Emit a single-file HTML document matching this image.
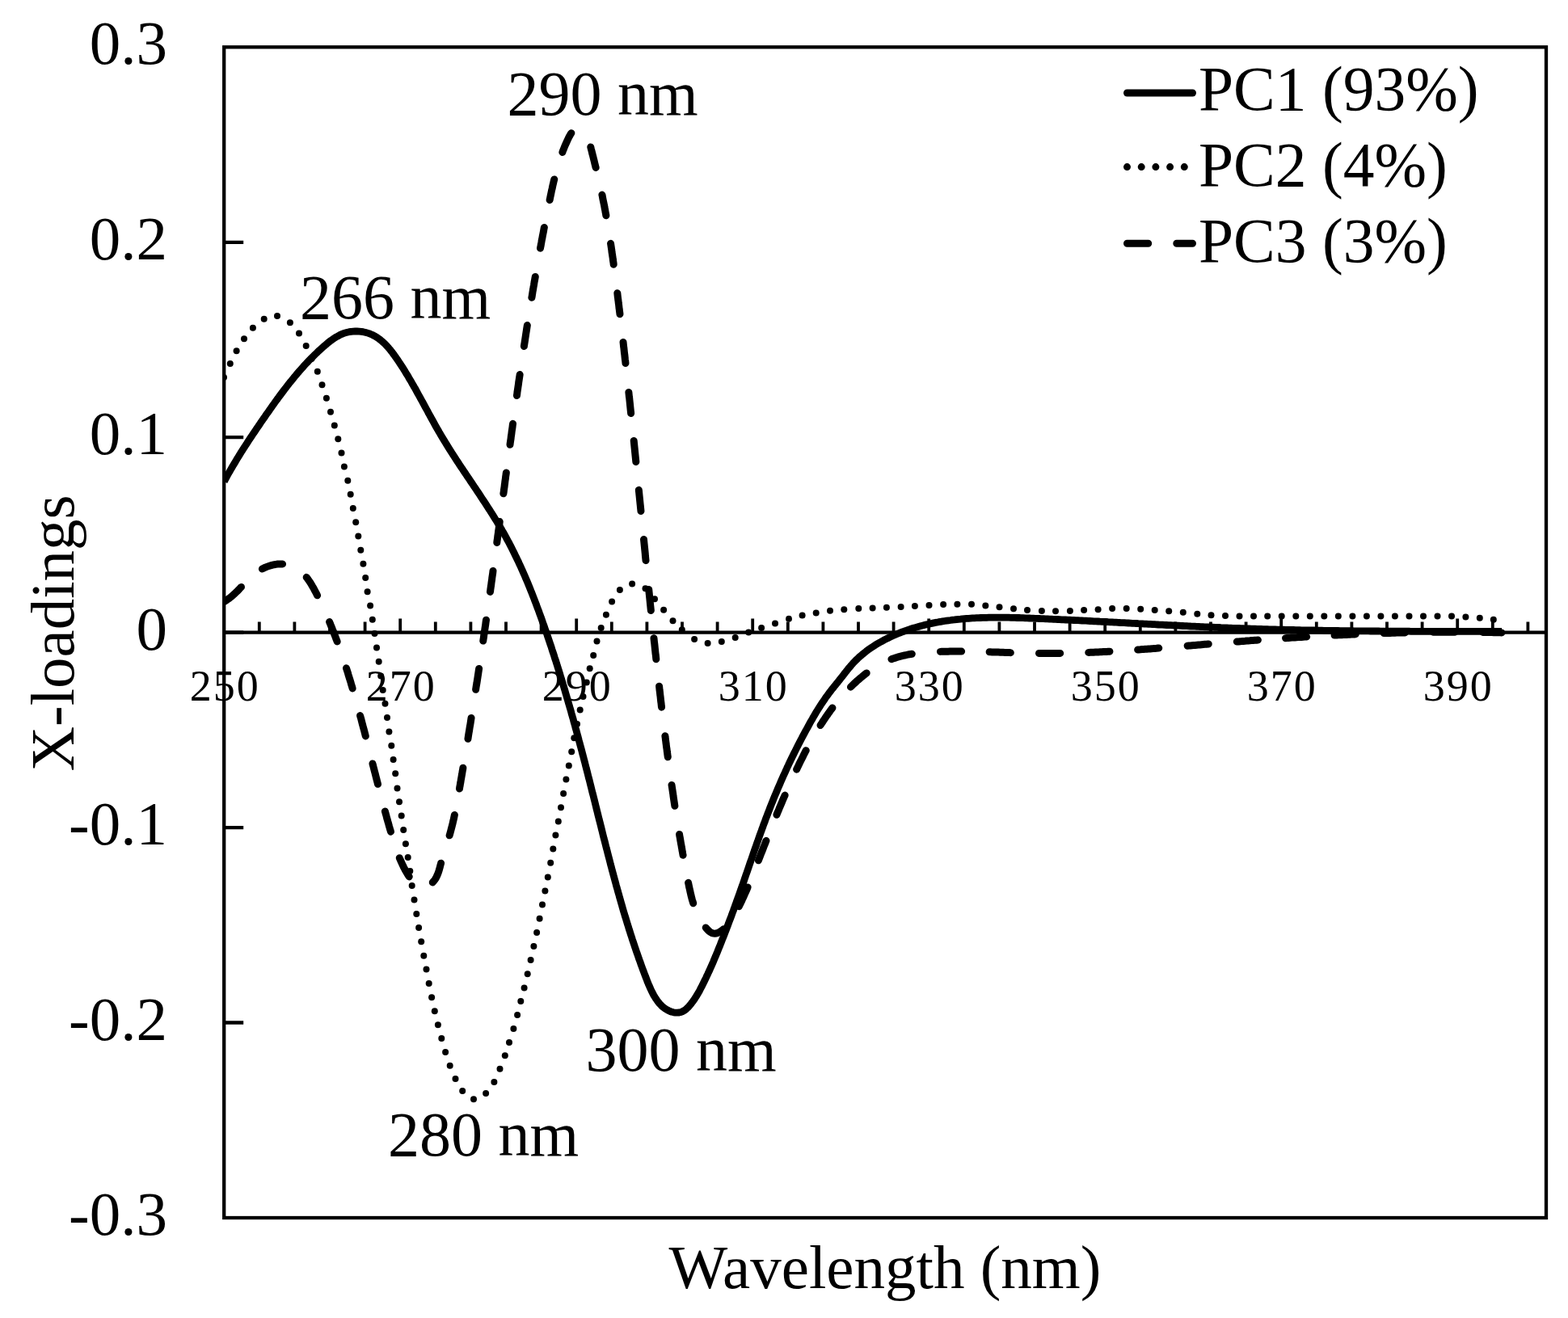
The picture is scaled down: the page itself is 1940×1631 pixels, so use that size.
<!DOCTYPE html>
<html><head><meta charset="utf-8"><title>X-loadings</title>
<style>html,body{margin:0;padding:0;background:#fff;overflow:hidden}svg{display:block}</style>
</head><body>
<svg xmlns="http://www.w3.org/2000/svg" width="1940" height="1631" viewBox="0 0 1940 1631" font-family="Liberation Serif, Times New Roman, serif" fill="#000">
<rect x="277.2" y="58.3" width="1635.8" height="1448.7" fill="none" stroke="#000" stroke-width="4.3"/>
<path d="M277.2,299.8H301.2M277.2,541.2H301.2M277.2,782.6H301.2M277.2,1024.1H301.2M277.2,1265.5H301.2" stroke="#000" stroke-width="4.3" fill="none"/>
<path d="M277.2,782.6H1913.0" stroke="#000" stroke-width="4.3" fill="none"/>
<path d="M320.8,782.6V769.6M364.4,782.6V769.6M408.0,782.6V769.6M451.6,782.6V769.6M495.2,782.6V765.4M538.8,782.6V769.6M582.4,782.6V769.6M626.0,782.6V769.6M669.6,782.6V769.6M713.2,782.6V765.4M756.8,782.6V769.6M800.4,782.6V769.6M844.0,782.6V769.6M887.6,782.6V769.6M931.2,782.6V765.4M974.8,782.6V769.6M1018.4,782.6V769.6M1062.0,782.6V769.6M1105.6,782.6V769.6M1149.2,782.6V765.4M1192.8,782.6V769.6M1236.4,782.6V769.6M1280.0,782.6V769.6M1323.6,782.6V769.6M1367.2,782.6V765.4M1410.8,782.6V769.6M1454.4,782.6V769.6M1498.0,782.6V769.6M1541.6,782.6V769.6M1585.2,782.6V765.4M1628.8,782.6V769.6M1672.4,782.6V769.6M1716.0,782.6V769.6M1759.6,782.6V769.6M1803.2,782.6V765.4M1846.8,782.6V769.6M1890.4,782.6V769.6" stroke="#000" stroke-width="3.8" fill="none"/>
<defs><clipPath id="pa"><rect x="277.2" y="58.3" width="1635.8" height="1448.7"/></clipPath></defs><g clip-path="url(#pa)">
<path d="M277.3,595.8 278.5,593.6 279.7,591.4 280.9,589.2 282.1,587.0 283.3,584.9 284.6,582.7 285.8,580.5 287.1,578.4 288.3,576.2 289.6,574.1 290.9,571.9 292.2,569.8 293.5,567.6 294.8,565.5 296.1,563.4 297.4,561.3 298.7,559.1 300.1,557.0 301.4,554.9 302.8,552.8 304.1,550.7 305.5,548.6 306.8,546.5 308.2,544.4 309.6,542.3 311.0,540.2 312.4,538.1 313.8,536.1 315.2,534.0 316.6,531.9 318.0,529.8 319.4,527.8 320.8,525.7 322.2,523.6 323.6,521.6 325.0,519.5 326.5,517.4 327.9,515.4 329.3,513.3 330.7,511.3 332.2,509.3 333.6,507.2 335.0,505.2 336.5,503.1 337.9,501.1 339.4,499.1 340.8,497.1 342.3,495.0 343.8,493.0 345.2,491.0 346.7,489.0 348.2,487.0 349.7,485.0 351.2,483.0 352.7,481.1 354.2,479.1 355.7,477.1 357.3,475.2 358.8,473.2 360.4,471.3 361.9,469.4 363.5,467.4 365.1,465.5 366.7,463.6 368.3,461.7 369.9,459.8 371.6,457.9 373.2,456.1 374.9,454.2 376.5,452.3 378.2,450.5 380.0,448.7 381.7,446.8 383.4,445.0 385.2,443.2 387.0,441.5 388.7,439.7 390.6,437.9 392.4,436.2 394.2,434.4 396.1,432.7 398.0,431.0 399.9,429.3 401.8,427.6 403.8,426.0 405.7,424.3 407.7,422.7 409.8,421.2 411.8,419.7 413.9,418.3 416.0,417.0 418.2,415.8 420.4,414.6 422.6,413.6 424.9,412.7 427.2,411.9 429.6,411.2 432.0,410.7 434.5,410.3 436.9,410.1 439.4,409.9 441.9,410.0 444.4,410.1 446.9,410.3 449.3,410.7 451.7,411.2 454.1,411.9 456.5,412.6 458.7,413.5 461.0,414.5 463.1,415.6 465.2,416.8 467.2,418.1 469.2,419.5 471.1,421.0 473.0,422.6 474.8,424.2 476.6,425.9 478.3,427.7 480.0,429.6 481.6,431.5 483.2,433.4 484.8,435.4 486.3,437.5 487.8,439.5 489.3,441.6 490.8,443.7 492.2,445.8 493.6,447.9 495.0,450.0 496.4,452.2 497.8,454.3 499.2,456.4 500.5,458.6 501.8,460.7 503.1,462.9 504.5,465.0 505.7,467.2 507.0,469.4 508.3,471.5 509.5,473.7 510.8,475.9 512.0,478.1 513.3,480.2 514.5,482.4 515.7,484.6 516.9,486.8 518.1,489.0 519.3,491.1 520.5,493.3 521.7,495.5 522.9,497.7 524.1,499.9 525.3,502.1 526.5,504.3 527.7,506.5 528.9,508.6 530.0,510.8 531.2,513.0 532.4,515.2 533.6,517.4 534.8,519.5 536.0,521.7 537.2,523.9 538.4,526.1 539.6,528.2 540.9,530.4 542.1,532.5 543.3,534.7 544.6,536.8 545.8,539.0 547.1,541.1 548.4,543.3 549.7,545.4 551.0,547.5 552.3,549.6 553.6,551.8 554.9,553.9 556.2,556.0 557.6,558.1 558.9,560.2 560.2,562.3 561.6,564.4 563.0,566.5 564.3,568.6 565.7,570.7 567.1,572.8 568.4,574.9 569.8,577.0 571.2,579.1 572.6,581.1 574.0,583.2 575.4,585.3 576.8,587.4 578.2,589.5 579.6,591.6 581.0,593.6 582.4,595.7 583.8,597.8 585.2,599.9 586.6,602.0 588.0,604.0 589.4,606.1 590.8,608.2 592.2,610.3 593.6,612.4 594.9,614.5 596.3,616.6 597.7,618.7 599.1,620.8 600.5,622.9 601.8,625.0 603.2,627.1 604.5,629.2 605.9,631.3 607.2,633.4 608.6,635.5 609.9,637.6 611.2,639.8 612.5,641.9 613.9,644.0 615.2,646.1 616.4,648.3 617.7,650.4 619.0,652.6 620.3,654.7 621.5,656.9 622.8,659.1 624.0,661.2 625.2,663.4 626.4,665.6 627.6,667.8 628.8,670.0 630.0,672.2 631.1,674.4 632.3,676.6 633.4,678.9 634.5,681.1 635.6,683.3 636.7,685.5 637.8,687.8 638.9,690.0 640.0,692.3 641.1,694.5 642.1,696.8 643.2,699.1 644.2,701.3 645.2,703.6 646.3,705.9 647.3,708.2 648.3,710.5 649.3,712.7 650.2,715.0 651.2,717.3 652.2,719.6 653.2,721.9 654.1,724.3 655.1,726.6 656.0,728.9 656.9,731.2 657.9,733.5 658.8,735.8 659.7,738.2 660.6,740.5 661.5,742.8 662.4,745.2 663.3,747.5 664.1,749.8 665.0,752.2 665.9,754.5 666.8,756.9 667.6,759.2 668.5,761.6 669.3,763.9 670.2,766.3 671.0,768.6 671.8,771.0 672.7,773.3 673.5,775.7 674.3,778.1 675.1,780.4 676.0,782.8 676.8,785.1 677.6,787.5 678.4,789.9 679.2,792.2 680.0,794.6 680.8,797.0 681.6,799.3 682.4,801.7 683.1,804.1 683.9,806.5 684.7,808.8 685.5,811.2 686.2,813.6 687.0,816.0 687.8,818.3 688.5,820.7 689.3,823.1 690.0,825.5 690.8,827.9 691.5,830.2 692.3,832.6 693.0,835.0 693.7,837.4 694.5,839.8 695.2,842.2 695.9,844.6 696.6,846.9 697.4,849.3 698.1,851.7 698.8,854.1 699.5,856.5 700.2,858.9 700.9,861.3 701.6,863.7 702.3,866.1 703.0,868.5 703.7,870.9 704.4,873.3 705.1,875.7 705.8,878.1 706.5,880.5 707.1,882.9 707.8,885.3 708.5,887.7 709.2,890.1 709.8,892.5 710.5,894.9 711.2,897.3 711.8,899.7 712.5,902.2 713.2,904.6 713.8,907.0 714.5,909.4 715.1,911.8 715.8,914.2 716.4,916.6 717.1,919.1 717.7,921.5 718.4,923.9 719.0,926.3 719.7,928.7 720.3,931.1 720.9,933.6 721.6,936.0 722.2,938.4 722.8,940.8 723.5,943.3 724.1,945.7 724.7,948.1 725.3,950.5 726.0,953.0 726.6,955.4 727.2,957.8 727.8,960.2 728.4,962.7 729.1,965.1 729.7,967.5 730.3,970.0 730.9,972.4 731.5,974.8 732.1,977.2 732.7,979.7 733.3,982.1 734.0,984.5 734.6,987.0 735.2,989.4 735.8,991.8 736.4,994.3 737.0,996.7 737.6,999.1 738.2,1001.6 738.8,1004.0 739.4,1006.4 740.0,1008.9 740.6,1011.3 741.2,1013.7 741.9,1016.2 742.5,1018.6 743.1,1021.0 743.7,1023.4 744.3,1025.9 744.9,1028.3 745.5,1030.7 746.1,1033.2 746.7,1035.6 747.3,1038.0 748.0,1040.4 748.6,1042.9 749.2,1045.3 749.8,1047.7 750.4,1050.1 751.1,1052.5 751.7,1055.0 752.3,1057.4 752.9,1059.8 753.6,1062.2 754.2,1064.6 754.8,1067.0 755.4,1069.5 756.1,1071.9 756.7,1074.3 757.3,1076.7 758.0,1079.1 758.6,1081.5 759.3,1083.9 759.9,1086.3 760.6,1088.7 761.2,1091.1 761.9,1093.5 762.5,1095.9 763.2,1098.3 763.9,1100.7 764.5,1103.1 765.2,1105.5 765.9,1107.8 766.5,1110.2 767.2,1112.6 767.9,1115.0 768.6,1117.4 769.3,1119.7 769.9,1122.1 770.6,1124.5 771.3,1126.9 772.0,1129.2 772.7,1131.6 773.4,1134.0 774.2,1136.3 774.9,1138.7 775.6,1141.0 776.3,1143.4 777.1,1145.8 777.8,1148.1 778.5,1150.5 779.3,1152.8 780.0,1155.2 780.8,1157.6 781.6,1159.9 782.3,1162.3 783.1,1164.7 783.9,1167.0 784.7,1169.4 785.5,1171.8 786.3,1174.2 787.1,1176.6 787.9,1178.9 788.8,1181.3 789.6,1183.7 790.4,1186.1 791.3,1188.5 792.2,1190.9 793.0,1193.4 793.9,1195.8 794.8,1198.2 795.7,1200.6 796.6,1203.1 797.5,1205.5 798.5,1208.0 799.4,1210.4 800.4,1212.9 801.3,1215.4 802.3,1217.8 803.4,1220.2 804.4,1222.6 805.5,1225.0 806.6,1227.3 807.8,1229.6 809.0,1231.9 810.3,1234.0 811.6,1236.1 813.0,1238.1 814.5,1240.1 816.0,1241.9 817.6,1243.6 819.3,1245.3 821.1,1246.8 823.0,1248.2 824.9,1249.4 827.0,1250.5 829.1,1251.5 831.3,1252.3 833.5,1252.8 835.8,1253.2 838.1,1253.2 840.3,1253.0 842.5,1252.5 844.6,1251.6 846.7,1250.4 848.7,1248.9 850.7,1247.1 852.5,1245.2 854.3,1243.1 855.9,1241.0 857.5,1238.8 859.1,1236.6 860.5,1234.4 861.9,1232.3 863.2,1230.1 864.4,1227.9 865.7,1225.7 866.8,1223.4 868.0,1221.2 869.1,1219.0 870.2,1216.8 871.3,1214.5 872.4,1212.3 873.5,1210.1 874.5,1207.8 875.6,1205.6 876.6,1203.3 877.7,1201.0 878.7,1198.8 879.7,1196.5 880.7,1194.2 881.7,1191.9 882.7,1189.7 883.6,1187.4 884.6,1185.1 885.6,1182.8 886.5,1180.5 887.5,1178.2 888.4,1175.9 889.3,1173.6 890.3,1171.3 891.2,1169.0 892.1,1166.6 893.0,1164.3 893.9,1162.0 894.9,1159.7 895.8,1157.4 896.7,1155.0 897.6,1152.7 898.5,1150.4 899.4,1148.0 900.3,1145.7 901.1,1143.4 902.0,1141.0 902.9,1138.7 903.8,1136.4 904.7,1134.0 905.5,1131.7 906.4,1129.3 907.3,1127.0 908.1,1124.6 909.0,1122.3 909.8,1119.9 910.7,1117.6 911.5,1115.2 912.4,1112.9 913.2,1110.5 914.1,1108.2 914.9,1105.8 915.7,1103.5 916.6,1101.1 917.4,1098.7 918.2,1096.4 919.1,1094.0 919.9,1091.7 920.7,1089.3 921.5,1086.9 922.3,1084.6 923.1,1082.2 924.0,1079.8 924.8,1077.5 925.6,1075.1 926.4,1072.8 927.2,1070.4 928.0,1068.0 928.8,1065.7 929.7,1063.3 930.5,1061.0 931.3,1058.6 932.1,1056.2 932.9,1053.9 933.7,1051.5 934.6,1049.2 935.4,1046.8 936.2,1044.4 937.0,1042.1 937.9,1039.7 938.7,1037.4 939.5,1035.0 940.4,1032.7 941.2,1030.3 942.1,1028.0 942.9,1025.6 943.8,1023.3 944.6,1020.9 945.5,1018.6 946.4,1016.3 947.2,1013.9 948.1,1011.6 949.0,1009.3 949.9,1006.9 950.8,1004.6 951.7,1002.3 952.6,999.9 953.5,997.6 954.4,995.3 955.4,993.0 956.3,990.6 957.2,988.3 958.2,986.0 959.1,983.7 960.1,981.4 961.1,979.1 962.0,976.8 963.0,974.5 964.0,972.2 965.0,969.9 966.0,967.6 967.0,965.3 968.0,963.0 969.0,960.7 970.1,958.4 971.1,956.2 972.1,953.9 973.2,951.6 974.2,949.3 975.3,947.1 976.3,944.8 977.4,942.5 978.5,940.3 979.6,938.0 980.7,935.8 981.8,933.5 982.9,931.3 984.0,929.1 985.1,926.8 986.2,924.6 987.4,922.4 988.5,920.1 989.7,917.9 990.8,915.7 992.0,913.5 993.1,911.3 994.3,909.1 995.5,906.9 996.7,904.7 997.9,902.5 999.1,900.3 1000.3,898.1 1001.5,895.9 1002.7,893.7 1003.9,891.6 1005.2,889.4 1006.4,887.2 1007.7,885.1 1008.9,883.0 1010.2,880.8 1011.5,878.7 1012.8,876.6 1014.2,874.5 1015.5,872.4 1016.9,870.3 1018.3,868.2 1019.7,866.2 1021.1,864.1 1022.5,862.1 1024.0,860.1 1025.5,858.0 1027.0,856.1 1028.5,854.1 1030.1,852.1 1031.7,850.2 1033.2,848.2 1034.8,846.2 1036.4,844.3 1037.9,842.3 1039.5,840.4 1041.0,838.4 1042.6,836.4 1044.1,834.5 1045.6,832.5 1047.2,830.6 1048.7,828.6 1050.3,826.7 1051.9,824.8 1053.5,822.9 1055.1,821.1 1056.8,819.3 1058.5,817.5 1060.3,815.8 1062.1,814.0 1063.9,812.4 1065.8,810.8 1067.7,809.2 1069.7,807.6 1071.6,806.1 1073.6,804.6 1075.6,803.1 1077.7,801.7 1079.8,800.3 1081.9,798.9 1084.0,797.6 1086.2,796.3 1088.4,795.0 1090.6,793.8 1092.8,792.6 1095.0,791.4 1097.3,790.3 1099.5,789.2 1101.8,788.1 1104.1,787.0 1106.4,786.0 1108.8,785.0 1111.1,784.0 1113.4,783.1 1115.8,782.2 1118.1,781.3 1120.5,780.5 1122.9,779.6 1125.2,778.8 1127.6,778.0 1130.0,777.3 1132.4,776.6 1134.8,775.9 1137.2,775.2 1139.6,774.6 1142.0,773.9 1144.4,773.3 1146.8,772.7 1149.2,772.2 1151.6,771.7 1154.1,771.1 1156.5,770.6 1158.9,770.2 1161.4,769.7 1163.8,769.3 1166.2,768.9 1168.7,768.5 1171.1,768.1 1173.6,767.8 1176.0,767.5 1178.5,767.1 1181.0,766.9 1183.4,766.6 1185.9,766.3 1188.4,766.1 1190.8,765.8 1193.3,765.6 1195.8,765.4 1198.3,765.3 1200.8,765.1 1203.2,764.9 1205.7,764.8 1208.2,764.7 1210.7,764.6 1213.2,764.5 1215.7,764.4 1218.2,764.3 1220.7,764.3 1223.2,764.2 1225.7,764.2 1228.2,764.1 1230.7,764.1 1233.2,764.1 1235.7,764.1 1238.2,764.1 1240.7,764.1 1243.2,764.2 1245.7,764.2 1248.2,764.2 1250.8,764.3 1253.3,764.3 1255.8,764.4 1258.3,764.5 1260.8,764.5 1263.3,764.6 1265.8,764.7 1268.3,764.8 1270.9,764.9 1273.4,765.0 1275.9,765.1 1278.4,765.2 1280.9,765.3 1283.4,765.4 1285.9,765.5 1288.4,765.6 1291.0,765.7 1293.5,765.8 1296.0,765.9 1298.5,766.1 1301.0,766.2 1303.5,766.3 1306.0,766.4 1308.5,766.5 1311.0,766.6 1313.5,766.8 1316.0,766.9 1318.5,767.0 1321.0,767.1 1323.5,767.2 1326.0,767.4 1328.5,767.5 1331.1,767.6 1333.6,767.7 1336.1,767.9 1338.6,768.0 1341.1,768.1 1343.6,768.2 1346.1,768.4 1348.6,768.5 1351.1,768.6 1353.5,768.8 1356.0,768.9 1358.5,769.0 1361.0,769.2 1363.5,769.3 1366.0,769.4 1368.5,769.5 1371.0,769.7 1373.5,769.8 1376.0,769.9 1378.5,770.1 1381.0,770.2 1383.5,770.3 1386.0,770.5 1388.5,770.6 1391.0,770.7 1393.5,770.9 1396.0,771.0 1398.5,771.1 1401.0,771.3 1403.4,771.4 1405.9,771.5 1408.4,771.7 1410.9,771.8 1413.4,771.9 1415.9,772.1 1418.4,772.2 1420.9,772.3 1423.4,772.4 1425.9,772.6 1428.4,772.7 1430.8,772.8 1433.3,773.0 1435.8,773.1 1438.3,773.2 1440.8,773.4 1443.3,773.5 1445.8,773.6 1448.3,773.7 1450.8,773.9 1453.3,774.0 1455.7,774.1 1458.2,774.2 1460.7,774.4 1463.2,774.5 1465.7,774.6 1468.2,774.7 1470.7,774.8 1473.2,775.0 1475.7,775.1 1478.2,775.2 1480.6,775.3 1483.1,775.4 1485.6,775.6 1488.1,775.7 1490.6,775.8 1493.1,775.9 1495.6,776.0 1498.1,776.1 1500.6,776.2 1503.1,776.3 1505.6,776.4 1508.1,776.5 1510.5,776.7 1513.0,776.8 1515.5,776.9 1518.0,777.0 1520.5,777.1 1523.0,777.2 1525.5,777.3 1528.0,777.4 1530.5,777.5 1533.0,777.5 1535.5,777.6 1538.0,777.7 1540.5,777.8 1543.0,777.9 1545.5,778.0 1548.0,778.1 1550.5,778.2 1553.0,778.2 1555.4,778.3 1557.9,778.4 1560.4,778.5 1562.9,778.6 1565.4,778.6 1567.9,778.7 1570.4,778.8 1572.9,778.8 1575.4,778.9 1577.9,779.0 1580.4,779.1 1582.9,779.1 1585.4,779.2 1587.9,779.2 1590.4,779.3 1592.9,779.4 1595.4,779.4 1597.9,779.5 1600.4,779.5 1602.9,779.6 1605.4,779.7 1607.9,779.7 1610.4,779.8 1612.9,779.8 1615.5,779.9 1618.0,779.9 1620.5,780.0 1623.0,780.0 1625.5,780.0 1628.0,780.1 1630.5,780.1 1633.0,780.2 1635.5,780.2 1638.0,780.3 1640.5,780.3 1643.0,780.3 1645.5,780.4 1648.0,780.4 1650.5,780.5 1653.0,780.5 1655.5,780.5 1658.0,780.6 1660.5,780.6 1663.0,780.6 1665.5,780.6 1668.0,780.7 1670.5,780.7 1673.0,780.7 1675.5,780.8 1678.0,780.8 1680.5,780.8 1683.1,780.8 1685.6,780.9 1688.1,780.9 1690.6,780.9 1693.1,780.9 1695.6,781.0 1698.1,781.0 1700.6,781.0 1703.1,781.0 1705.6,781.0 1708.1,781.1 1710.6,781.1 1713.1,781.1 1715.6,781.1 1718.1,781.1 1720.6,781.1 1723.1,781.1 1725.6,781.2 1728.1,781.2 1730.6,781.2 1733.1,781.2 1735.6,781.2 1738.1,781.2 1740.6,781.2 1743.1,781.2 1745.6,781.3 1748.1,781.3 1750.6,781.3 1753.1,781.3 1755.6,781.3 1758.1,781.3 1760.6,781.3 1763.1,781.3 1765.6,781.3 1768.1,781.3 1770.7,781.3 1773.2,781.3 1775.7,781.3 1778.2,781.3 1780.6,781.4 1783.1,781.4 1785.6,781.4 1788.1,781.4 1790.6,781.4 1793.1,781.4 1795.6,781.4 1798.1,781.4 1800.6,781.4 1803.1,781.4 1805.6,781.4 1808.1,781.4 1810.6,781.4 1813.1,781.4 1815.6,781.4 1818.1,781.4 1820.6,781.4 1823.1,781.4 1825.6,781.4 1828.1,781.4 1830.6,781.4 1833.1,781.4 1835.6,781.4 1838.1,781.4 1840.6,781.4 1843.0,781.4 1845.5,781.4 1848.0,781.4 1850.5,781.4 1853.0,781.4 1855.5,781.4 1858.0,781.4" fill="none" stroke="#000" stroke-width="8.8" stroke-linecap="butt" stroke-linejoin="round"/>
<g fill="#000"><circle cx="277.0" cy="467.0" r="4.0"/><circle cx="284.8" cy="450.0" r="4.0"/><circle cx="292.6" cy="434.2" r="4.0"/><circle cx="302.0" cy="419.3" r="4.0"/><circle cx="312.9" cy="405.7" r="4.0"/><circle cx="326.7" cy="394.8" r="4.0"/><circle cx="343.0" cy="391.1" r="4.0"/><circle cx="358.9" cy="399.2" r="4.0"/><circle cx="370.0" cy="412.4" r="4.0"/><circle cx="378.7" cy="428.0" r="4.0"/><circle cx="385.5" cy="444.0" r="4.0"/><circle cx="392.8" cy="459.8" r="4.0"/><circle cx="398.5" cy="476.3" r="4.0"/><circle cx="403.9" cy="492.8" r="4.0"/><circle cx="409.0" cy="509.7" r="4.0"/><circle cx="413.8" cy="526.4" r="4.0"/><circle cx="418.3" cy="543.3" r="4.0"/><circle cx="422.5" cy="560.4" r="4.0"/><circle cx="425.9" cy="577.4" r="4.0"/><circle cx="430.3" cy="594.7" r="4.0"/><circle cx="433.7" cy="611.8" r="4.0"/><circle cx="436.8" cy="629.1" r="4.0"/><circle cx="440.2" cy="646.3" r="4.0"/><circle cx="443.3" cy="663.4" r="4.0"/><circle cx="446.3" cy="680.7" r="4.0"/><circle cx="449.4" cy="697.8" r="4.0"/><circle cx="452.2" cy="715.0" r="4.0"/><circle cx="454.6" cy="732.3" r="4.0"/><circle cx="458.1" cy="749.6" r="4.0"/><circle cx="460.8" cy="766.7" r="4.0"/><circle cx="463.5" cy="784.0" r="4.0"/><circle cx="466.0" cy="801.4" r="4.0"/><circle cx="468.7" cy="818.8" r="4.0"/><circle cx="471.2" cy="836.4" r="4.0"/><circle cx="473.7" cy="854.0" r="4.0"/><circle cx="476.5" cy="870.7" r="4.0"/><circle cx="479.0" cy="888.0" r="4.0"/><circle cx="481.4" cy="905.4" r="4.0"/><circle cx="484.3" cy="922.7" r="4.0"/><circle cx="486.6" cy="940.0" r="4.0"/><circle cx="489.2" cy="957.2" r="4.0"/><circle cx="491.5" cy="975.4" r="4.0"/><circle cx="494.0" cy="992.3" r="4.0"/><circle cx="496.7" cy="1009.6" r="4.0"/><circle cx="499.2" cy="1027.0" r="4.0"/><circle cx="501.9" cy="1044.3" r="4.0"/><circle cx="504.7" cy="1061.0" r="4.0"/><circle cx="507.3" cy="1078.0" r="4.0"/><circle cx="509.7" cy="1096.0" r="4.0"/><circle cx="512.5" cy="1113.6" r="4.0"/><circle cx="515.3" cy="1130.9" r="4.0"/><circle cx="518.1" cy="1147.9" r="4.0"/><circle cx="521.2" cy="1165.2" r="4.0"/><circle cx="524.3" cy="1182.7" r="4.0"/><circle cx="527.5" cy="1199.6" r="4.0"/><circle cx="530.7" cy="1217.0" r="4.0"/><circle cx="534.1" cy="1234.2" r="4.0"/><circle cx="537.8" cy="1251.3" r="4.0"/><circle cx="541.9" cy="1268.2" r="4.0"/><circle cx="546.3" cy="1285.1" r="4.0"/><circle cx="551.1" cy="1301.9" r="4.0"/><circle cx="556.7" cy="1318.8" r="4.0"/><circle cx="563.5" cy="1335.0" r="4.0"/><circle cx="572.2" cy="1350.0" r="4.0"/><circle cx="586.0" cy="1360.2" r="4.0"/><circle cx="601.1" cy="1353.1" r="4.0"/><circle cx="611.4" cy="1339.0" r="4.0"/><circle cx="618.5" cy="1322.8" r="4.0"/><circle cx="624.8" cy="1306.3" r="4.0"/><circle cx="630.0" cy="1289.9" r="4.0"/><circle cx="635.4" cy="1273.0" r="4.0"/><circle cx="640.1" cy="1256.1" r="4.0"/><circle cx="644.3" cy="1239.1" r="4.0"/><circle cx="648.6" cy="1222.4" r="4.0"/><circle cx="652.7" cy="1205.2" r="4.0"/><circle cx="656.6" cy="1188.1" r="4.0"/><circle cx="660.4" cy="1171.1" r="4.0"/><circle cx="664.1" cy="1153.9" r="4.0"/><circle cx="667.6" cy="1136.7" r="4.0"/><circle cx="671.0" cy="1119.6" r="4.0"/><circle cx="674.4" cy="1102.4" r="4.0"/><circle cx="677.8" cy="1085.4" r="4.0"/><circle cx="681.2" cy="1067.8" r="4.0"/><circle cx="684.3" cy="1050.5" r="4.0"/><circle cx="687.4" cy="1033.5" r="4.0"/><circle cx="690.8" cy="1016.5" r="4.0"/><circle cx="694.0" cy="999.2" r="4.0"/><circle cx="697.1" cy="981.9" r="4.0"/><circle cx="700.4" cy="964.5" r="4.0"/><circle cx="703.8" cy="947.6" r="4.0"/><circle cx="707.2" cy="930.3" r="4.0"/><circle cx="710.3" cy="913.2" r="4.0"/><circle cx="714.0" cy="895.9" r="4.0"/><circle cx="717.7" cy="878.4" r="4.0"/><circle cx="721.5" cy="861.9" r="4.0"/><circle cx="725.8" cy="844.5" r="4.0"/><circle cx="729.7" cy="827.2" r="4.0"/><circle cx="734.2" cy="810.9" r="4.0"/><circle cx="738.5" cy="793.6" r="4.0"/><circle cx="743.7" cy="777.1" r="4.0"/><circle cx="749.9" cy="760.7" r="4.0"/><circle cx="757.1" cy="744.6" r="4.0"/><circle cx="766.9" cy="730.1" r="4.0"/><circle cx="782.1" cy="722.5" r="4.0"/><circle cx="798.5" cy="728.3" r="4.0"/><circle cx="810.0" cy="741.3" r="4.0"/><circle cx="821.1" cy="754.8" r="4.0"/><circle cx="832.5" cy="768.3" r="4.0"/><circle cx="843.8" cy="779.3" r="4.0"/><circle cx="859.1" cy="791.0" r="4.0"/><circle cx="875.6" cy="795.9" r="4.0"/><circle cx="892.8" cy="794.0" r="4.0"/><circle cx="909.7" cy="789.1" r="4.0"/><circle cx="926.2" cy="782.4" r="4.0"/><circle cx="942.1" cy="776.9" r="4.0"/><circle cx="959.0" cy="771.4" r="4.0"/><circle cx="976.0" cy="765.8" r="4.0"/><circle cx="992.6" cy="761.6" r="4.0"/><circle cx="1009.7" cy="758.6" r="4.0"/><circle cx="1027.0" cy="755.8" r="4.0"/><circle cx="1044.3" cy="754.2" r="4.0"/><circle cx="1062.3" cy="753.0" r="4.0"/><circle cx="1079.6" cy="752.4" r="4.0"/><circle cx="1096.9" cy="751.8" r="4.0"/><circle cx="1114.6" cy="750.9" r="4.0"/><circle cx="1131.9" cy="749.9" r="4.0"/><circle cx="1149.5" cy="748.9" r="4.0"/><circle cx="1167.1" cy="748.0" r="4.0"/><circle cx="1184.4" cy="747.7" r="4.0"/><circle cx="1202.0" cy="747.8" r="4.0"/><circle cx="1219.3" cy="749.4" r="4.0"/><circle cx="1236.5" cy="751.2" r="4.0"/><circle cx="1254.0" cy="753.3" r="4.0"/><circle cx="1271.0" cy="755.0" r="4.0"/><circle cx="1288.9" cy="755.9" r="4.0"/><circle cx="1306.0" cy="756.3" r="4.0"/><circle cx="1323.9" cy="755.9" r="4.0"/><circle cx="1341.1" cy="755.0" r="4.0"/><circle cx="1358.6" cy="754.2" r="4.0"/><circle cx="1376.1" cy="752.9" r="4.0"/><circle cx="1393.7" cy="752.9" r="4.0"/><circle cx="1411.2" cy="753.8" r="4.0"/><circle cx="1428.7" cy="755.0" r="4.0"/><circle cx="1446.2" cy="756.3" r="4.0"/><circle cx="1463.8" cy="757.7" r="4.0"/><circle cx="1481.3" cy="759.8" r="4.0"/><circle cx="1498.5" cy="761.2" r="4.0"/><circle cx="1516.0" cy="762.1" r="4.0"/><circle cx="1533.5" cy="762.4" r="4.0"/><circle cx="1551.0" cy="762.4" r="4.0"/><circle cx="1568.2" cy="762.4" r="4.0"/><circle cx="1585.7" cy="762.4" r="4.0"/><circle cx="1603.3" cy="762.4" r="4.0"/><circle cx="1620.8" cy="762.4" r="4.0"/><circle cx="1638.3" cy="762.4" r="4.0"/><circle cx="1655.8" cy="762.4" r="4.0"/><circle cx="1673.4" cy="762.4" r="4.0"/><circle cx="1690.9" cy="762.4" r="4.0"/><circle cx="1708.4" cy="762.4" r="4.0"/><circle cx="1725.9" cy="762.4" r="4.0"/><circle cx="1743.5" cy="762.4" r="4.0"/><circle cx="1761.0" cy="762.4" r="4.0"/><circle cx="1778.5" cy="762.4" r="4.0"/><circle cx="1796.0" cy="762.6" r="4.0"/><circle cx="1813.4" cy="763.4" r="4.0"/><circle cx="1830.8" cy="764.8" r="4.0"/><circle cx="1847.8" cy="766.7" r="4.0"/></g>
<path d="M276.8,744.7 278.5,743.8 280.2,742.7 281.8,741.6 283.4,740.5 285.0,739.3 286.6,738.0 288.1,736.7 289.5,735.4 291.0,734.0 292.5,732.6 293.9,731.2 295.3,729.8 296.7,728.3 298.1,726.8 299.5,725.3 300.9,723.8 302.3,722.4 303.8,720.9 305.2,719.4 306.6,718.0 308.1,716.5 309.5,715.1 311.0,713.7 312.5,712.4 314.1,711.1 315.6,709.8 317.2,708.6 318.9,707.4 320.6,706.3 322.3,705.2 324.1,704.2 325.9,703.3 327.7,702.4 329.6,701.6 331.5,700.9 333.5,700.2 335.5,699.6 337.4,699.1 339.4,698.7 341.4,698.4 343.4,698.1 345.4,698.0 347.4,697.9 349.4,697.9 351.3,698.0 353.3,698.2 355.2,698.4 357.0,698.8 358.9,699.3 360.6,699.8 362.4,700.5 364.1,701.3 365.7,702.1 367.3,703.1 368.8,704.1 370.3,705.2 371.8,706.4 373.2,707.7 374.6,709.0 375.9,710.4 377.2,711.9 378.4,713.4 379.7,715.0 380.9,716.6 382.0,718.2 383.2,719.9 384.3,721.7 385.4,723.5 386.4,725.3 387.5,727.1 388.5,728.9 389.5,730.8 390.5,732.7 391.5,734.5 392.4,736.4 393.3,738.3 394.3,740.2 395.2,742.1 396.1,743.9 397.0,745.8 397.9,747.7 398.7,749.5 399.6,751.4 400.5,753.2 401.3,755.1 402.1,756.9 403.0,758.8 403.8,760.6 404.6,762.5 405.4,764.3 406.2,766.2 406.9,768.0 407.7,769.8 408.5,771.7 409.2,773.5 410.0,775.4 410.7,777.2 411.4,779.0 412.2,780.9 412.9,782.7 413.6,784.6 414.3,786.4 415.0,788.2 415.7,790.1 416.4,791.9 417.1,793.8 417.8,795.6 418.4,797.5 419.1,799.3 419.8,801.2 420.4,803.1 421.1,804.9 421.8,806.8 422.4,808.7 423.0,810.5 423.7,812.4 424.3,814.3 424.9,816.2 425.6,818.0 426.2,819.9 426.8,821.8 427.4,823.7 428.0,825.6 428.7,827.5 429.3,829.4 429.9,831.2 430.5,833.1 431.0,835.0 431.6,836.9 432.2,838.8 432.8,840.7 433.4,842.6 434.0,844.5 434.5,846.5 435.1,848.4 435.7,850.3 436.2,852.2 436.8,854.1 437.4,856.0 437.9,857.9 438.5,859.8 439.0,861.8 439.6,863.7 440.1,865.6 440.6,867.5 441.2,869.4 441.7,871.4 442.3,873.3 442.8,875.2 443.3,877.2 443.8,879.1 444.4,881.0 444.9,882.9 445.4,884.9 445.9,886.8 446.5,888.7 447.0,890.7 447.5,892.6 448.0,894.6 448.5,896.5 449.0,898.4 449.5,900.4 450.1,902.3 450.6,904.2 451.1,906.2 451.6,908.1 452.1,910.1 452.6,912.0 453.1,914.0 453.6,915.9 454.1,917.8 454.6,919.8 455.1,921.7 455.6,923.7 456.1,925.6 456.6,927.6 457.1,929.5 457.6,931.5 458.1,933.4 458.5,935.3 459.0,937.3 459.5,939.2 460.0,941.2 460.5,943.1 461.0,945.1 461.5,947.0 462.0,949.0 462.5,950.9 463.0,952.9 463.5,954.8 464.0,956.7 464.5,958.7 465.0,960.6 465.5,962.6 466.0,964.5 466.5,966.5 467.0,968.4 467.5,970.4 468.0,972.3 468.5,974.2 469.0,976.2 469.5,978.1 470.0,980.1 470.5,982.0 471.0,983.9 471.5,985.9 472.0,987.8 472.5,989.7 473.1,991.7 473.6,993.6 474.1,995.5 474.6,997.5 475.1,999.4 475.7,1001.3 476.2,1003.3 476.7,1005.2 477.2,1007.1 477.8,1009.0 478.3,1011.0 478.8,1012.9 479.4,1014.8 479.9,1016.7 480.5,1018.7 481.0,1020.6 481.5,1022.5 482.1,1024.4 482.6,1026.3 483.2,1028.2 483.8,1030.2 484.3,1032.1 484.9,1034.0 485.5,1035.9 486.0,1037.8 486.6,1039.7 487.2,1041.6 487.8,1043.5 488.4,1045.4 489.0,1047.3 489.7,1049.1 490.3,1051.0 491.0,1052.9 491.7,1054.8 492.4,1056.6 493.1,1058.5 493.8,1060.4 494.5,1062.2 495.3,1064.1 496.1,1065.9 496.9,1067.7 497.8,1069.6 498.7,1071.4 499.5,1073.2 500.5,1075.0 501.4,1076.8 502.4,1078.6 503.4,1080.3 504.5,1082.1 505.6,1083.9 506.7,1085.6 507.8,1087.4 509.0,1089.0 510.3,1090.7 511.6,1092.2 513.0,1093.5 514.5,1094.7 516.0,1095.7 517.7,1096.5 519.5,1097.0 521.3,1097.3 523.2,1097.3 525.2,1097.1 527.1,1096.6 529.0,1096.0 530.8,1095.2 532.5,1094.2 534.1,1093.0 535.5,1091.7 536.8,1090.2 538.0,1088.7 539.1,1087.0 540.0,1085.2 540.9,1083.3 541.7,1081.4 542.4,1079.4 543.1,1077.3 543.7,1075.3 544.3,1073.2 544.8,1071.0 545.4,1068.9 545.9,1066.8 546.5,1064.8 547.1,1062.7 547.7,1060.7 548.3,1058.7 548.9,1056.8 549.5,1054.8 550.1,1052.9 550.7,1051.0 551.3,1049.1 551.9,1047.3 552.5,1045.4 553.1,1043.5 553.7,1041.7 554.3,1039.8 554.9,1037.9 555.5,1036.1 556.0,1034.2 556.6,1032.3 557.1,1030.4 557.6,1028.6 558.1,1026.7 558.6,1024.7 559.1,1022.8 559.6,1020.9 560.1,1019.0 560.5,1017.1 561.0,1015.1 561.4,1013.2 561.8,1011.3 562.2,1009.3 562.6,1007.4 563.0,1005.4 563.4,1003.5 563.8,1001.5 564.2,999.5 564.6,997.6 565.0,995.6 565.3,993.6 565.7,991.7 566.1,989.7 566.4,987.7 566.8,985.7 567.1,983.8 567.5,981.8 567.8,979.8 568.2,977.8 568.5,975.8 568.8,973.9 569.2,971.9 569.5,969.9 569.9,967.9 570.2,965.9 570.5,964.0 570.9,962.0 571.2,960.0 571.6,958.0 571.9,956.1 572.2,954.1 572.6,952.1 572.9,950.1 573.3,948.2 573.6,946.2 573.9,944.2 574.3,942.2 574.6,940.2 574.9,938.3 575.3,936.3 575.6,934.3 575.9,932.3 576.2,930.4 576.6,928.4 576.9,926.4 577.2,924.4 577.6,922.5 577.9,920.5 578.2,918.5 578.5,916.5 578.9,914.6 579.2,912.6 579.5,910.6 579.8,908.6 580.1,906.7 580.5,904.7 580.8,902.7 581.1,900.7 581.4,898.8 581.8,896.8 582.1,894.8 582.4,892.9 582.7,890.9 583.0,888.9 583.3,886.9 583.7,885.0 584.0,883.0 584.3,881.0 584.6,879.0 584.9,877.1 585.2,875.1 585.5,873.1 585.9,871.1 586.2,869.2 586.5,867.2 586.8,865.2 587.1,863.2 587.4,861.3 587.7,859.3 588.0,857.3 588.3,855.4 588.6,853.4 588.9,851.4 589.2,849.4 589.5,847.5 589.9,845.5 590.2,843.5 590.5,841.5 590.8,839.6 591.1,837.6 591.4,835.6 591.7,833.7 592.0,831.7 592.3,829.7 592.6,827.7 592.9,825.8 593.2,823.8 593.5,821.8 593.8,819.8 594.1,817.9 594.4,815.9 594.7,813.9 594.9,811.9 595.2,810.0 595.5,808.0 595.8,806.0 596.1,804.0 596.4,802.1 596.7,800.1 597.0,798.1 597.3,796.1 597.6,794.2 597.9,792.2 598.2,790.2 598.5,788.3 598.7,786.3 599.0,784.3 599.3,782.3 599.6,780.4 599.9,778.4 600.2,776.4 600.5,774.4 600.8,772.5 601.0,770.5 601.3,768.5 601.6,766.5 601.9,764.5 602.2,762.6 602.5,760.6 602.7,758.6 603.0,756.6 603.3,754.7 603.6,752.7 603.9,750.7 604.1,748.7 604.4,746.8 604.7,744.8 605.0,742.8 605.3,740.8 605.5,738.8 605.8,736.9 606.1,734.9 606.4,732.9 606.7,730.9 606.9,729.0 607.2,727.0 607.5,725.0 607.8,723.0 608.0,721.0 608.3,719.1 608.6,717.1 608.8,715.1 609.1,713.1 609.4,711.1 609.7,709.2 609.9,707.2 610.2,705.2 610.5,703.2 610.7,701.2 611.0,699.3 611.3,697.3 611.6,695.3 611.8,693.3 612.1,691.3 612.4,689.4 612.6,687.4 612.9,685.4 613.2,683.4 613.4,681.4 613.7,679.5 614.0,677.5 614.2,675.5 614.5,673.5 614.8,671.5 615.0,669.5 615.3,667.6 615.6,665.6 615.8,663.6 616.1,661.6 616.4,659.6 616.6,657.6 616.9,655.7 617.2,653.7 617.4,651.7 617.7,649.7 618.0,647.7 618.2,645.7 618.5,643.8 618.8,641.8 619.0,639.8 619.3,637.8 619.6,635.8 619.8,633.8 620.1,631.9 620.3,629.9 620.6,627.9 620.9,625.9 621.1,623.9 621.4,621.9 621.7,620.0 621.9,618.0 622.2,616.0 622.5,614.0 622.7,612.0 623.0,610.0 623.3,608.1 623.5,606.1 623.8,604.1 624.1,602.1 624.3,600.1 624.6,598.1 624.8,596.2 625.1,594.2 625.4,592.2 625.6,590.2 625.9,588.2 626.2,586.2 626.4,584.3 626.7,582.3 627.0,580.3 627.2,578.3 627.5,576.3 627.8,574.3 628.0,572.3 628.3,570.4 628.6,568.4 628.8,566.4 629.1,564.4 629.4,562.4 629.6,560.4 629.9,558.5 630.2,556.5 630.4,554.5 630.7,552.5 631.0,550.5 631.2,548.5 631.5,546.6 631.8,544.6 632.1,542.6 632.3,540.6 632.6,538.6 632.9,536.6 633.1,534.7 633.4,532.7 633.7,530.7 634.0,528.7 634.2,526.7 634.5,524.7 634.8,522.8 635.0,520.8 635.3,518.8 635.6,516.8 635.9,514.8 636.1,512.9 636.4,510.9 636.7,508.9 637.0,506.9 637.3,504.9 637.5,502.9 637.8,501.0 638.1,499.0 638.4,497.0 638.6,495.0 638.9,493.0 639.2,491.1 639.5,489.1 639.8,487.1 640.0,485.1 640.3,483.1 640.6,481.2 640.9,479.2 641.2,477.2 641.5,475.2 641.7,473.2 642.0,471.3 642.3,469.3 642.6,467.3 642.9,465.3 643.2,463.3 643.5,461.4 643.8,459.4 644.0,457.4 644.3,455.4 644.6,453.4 644.9,451.5 645.2,449.5 645.5,447.5 645.8,445.5 646.1,443.6 646.4,441.6 646.7,439.6 647.0,437.6 647.3,435.7 647.6,433.7 647.9,431.7 648.2,429.7 648.5,427.7 648.8,425.8 649.1,423.8 649.4,421.8 649.7,419.8 650.0,417.9 650.3,415.9 650.6,413.9 650.9,411.9 651.2,410.0 651.5,408.0 651.8,406.0 652.1,404.1 652.4,402.1 652.7,400.1 653.1,398.1 653.4,396.2 653.7,394.2 654.0,392.2 654.3,390.2 654.6,388.3 654.9,386.3 655.3,384.3 655.6,382.4 655.9,380.4 656.2,378.4 656.5,376.4 656.9,374.5 657.2,372.5 657.5,370.5 657.8,368.6 658.2,366.6 658.5,364.6 658.8,362.7 659.1,360.7 659.5,358.7 659.8,356.8 660.1,354.8 660.5,352.8 660.8,350.9 661.1,348.9 661.5,346.9 661.8,345.0 662.2,343.0 662.5,341.0 662.8,339.1 663.2,337.1 663.5,335.1 663.9,333.2 664.2,331.2 664.6,329.2 664.9,327.3 665.2,325.3 665.6,323.4 665.9,321.4 666.3,319.4 666.7,317.5 667.0,315.5 667.4,313.6 667.7,311.6 668.1,309.6 668.4,307.7 668.8,305.7 669.2,303.8 669.5,301.8 669.9,299.8 670.2,297.9 670.6,295.9 671.0,294.0 671.3,292.0 671.7,290.1 672.1,288.1 672.5,286.1 672.8,284.2 673.2,282.2 673.6,280.3 674.0,278.3 674.3,276.4 674.7,274.4 675.1,272.5 675.5,270.5 675.9,268.6 676.2,266.6 676.6,264.6 677.0,262.7 677.4,260.7 677.8,258.8 678.2,256.8 678.6,254.9 679.0,252.9 679.4,251.0 679.8,249.0 680.2,247.1 680.6,245.2 681.0,243.2 681.4,241.3 681.8,239.3 682.2,237.4 682.6,235.4 683.1,233.5 683.5,231.5 683.9,229.6 684.4,227.6 684.8,225.7 685.3,223.7 685.8,221.8 686.2,219.8 686.7,217.9 687.2,215.9 687.8,214.0 688.3,212.0 688.8,210.1 689.4,208.1 689.9,206.2 690.5,204.2 691.1,202.3 691.7,200.3 692.4,198.4 693.0,196.4 693.7,194.5 694.4,192.5 695.1,190.5 695.8,188.6 696.5,186.6 697.3,184.7 698.1,182.7 698.9,180.7 699.7,178.8 700.6,176.8 701.5,174.8 702.4,172.9 703.3,170.9 704.3,169.0 705.3,167.2 706.3,165.5 707.4,163.9 708.6,162.4 709.7,161.1 711.0,160.0 712.3,159.2 713.6,158.5 715.1,158.1 716.5,158.0 717.9,158.1 719.3,158.5 720.6,159.1 721.8,159.9 722.9,161.0 723.9,162.3 724.8,163.8 725.6,165.5 726.4,167.3 727.2,169.2 727.8,171.2 728.5,173.3 729.1,175.4 729.7,177.6 730.2,179.8 730.8,182.0 731.3,184.1 731.9,186.3 732.4,188.4 732.9,190.5 733.5,192.6 734.0,194.6 734.5,196.7 735.0,198.7 735.5,200.8 736.0,202.8 736.5,204.8 737.0,206.8 737.5,208.7 737.9,210.7 738.4,212.7 738.9,214.6 739.4,216.5 739.8,218.5 740.3,220.4 740.7,222.3 741.2,224.3 741.6,226.2 742.0,228.1 742.5,230.0 742.9,231.9 743.3,233.8 743.7,235.7 744.1,237.6 744.5,239.5 745.0,241.4 745.4,243.3 745.7,245.3 746.1,247.2 746.5,249.1 746.9,251.0 747.3,252.9 747.7,254.9 748.0,256.8 748.4,258.7 748.8,260.7 749.1,262.6 749.5,264.5 749.8,266.5 750.2,268.4 750.5,270.4 750.9,272.3 751.2,274.3 751.5,276.2 751.9,278.2 752.2,280.1 752.5,282.1 752.8,284.0 753.1,286.0 753.5,288.0 753.8,289.9 754.1,291.9 754.4,293.8 754.7,295.8 755.0,297.8 755.3,299.7 755.6,301.7 755.9,303.7 756.2,305.7 756.5,307.6 756.8,309.6 757.0,311.6 757.3,313.6 757.6,315.5 757.9,317.5 758.2,319.5 758.4,321.5 758.7,323.5 759.0,325.4 759.2,327.4 759.5,329.4 759.8,331.4 760.0,333.4 760.3,335.4 760.6,337.4 760.8,339.3 761.1,341.3 761.3,343.3 761.6,345.3 761.9,347.3 762.1,349.3 762.4,351.3 762.6,353.3 762.9,355.3 763.1,357.2 763.4,359.2 763.6,361.2 763.9,363.2 764.1,365.2 764.3,367.2 764.6,369.2 764.8,371.2 765.1,373.2 765.3,375.2 765.6,377.2 765.8,379.1 766.0,381.1 766.3,383.1 766.5,385.1 766.8,387.1 767.0,389.1 767.2,391.1 767.5,393.1 767.7,395.1 768.0,397.1 768.2,399.0 768.4,401.0 768.7,403.0 768.9,405.0 769.1,407.0 769.4,409.0 769.6,411.0 769.8,413.0 770.0,415.0 770.3,417.0 770.5,418.9 770.7,420.9 771.0,422.9 771.2,424.9 771.4,426.9 771.6,428.9 771.9,430.9 772.1,432.9 772.3,434.9 772.5,436.9 772.8,438.8 773.0,440.8 773.2,442.8 773.4,444.8 773.7,446.8 773.9,448.8 774.1,450.8 774.3,452.8 774.6,454.8 774.8,456.8 775.0,458.7 775.2,460.7 775.4,462.7 775.6,464.7 775.9,466.7 776.1,468.7 776.3,470.7 776.5,472.7 776.7,474.7 776.9,476.7 777.2,478.6 777.4,480.6 777.6,482.6 777.8,484.6 778.0,486.6 778.2,488.6 778.4,490.6 778.7,492.6 778.9,494.6 779.1,496.6 779.3,498.5 779.5,500.5 779.7,502.5 779.9,504.5 780.1,506.5 780.3,508.5 780.5,510.5 780.8,512.5 781.0,514.5 781.2,516.4 781.4,518.4 781.6,520.4 781.8,522.4 782.0,524.4 782.2,526.4 782.4,528.4 782.6,530.4 782.8,532.4 783.0,534.4 783.2,536.3 783.4,538.3 783.7,540.3 783.9,542.3 784.1,544.3 784.3,546.3 784.5,548.3 784.7,550.3 784.9,552.3 785.1,554.2 785.3,556.2 785.5,558.2 785.7,560.2 785.9,562.2 786.1,564.2 786.3,566.2 786.5,568.2 786.7,570.2 786.9,572.2 787.1,574.1 787.3,576.1 787.5,578.1 787.7,580.1 787.9,582.1 788.1,584.1 788.3,586.1 788.5,588.1 788.7,590.1 788.9,592.0 789.1,594.0 789.3,596.0 789.5,598.0 789.7,600.0 789.9,602.0 790.1,604.0 790.3,606.0 790.5,608.0 790.7,609.9 790.9,611.9 791.1,613.9 791.3,615.9 791.5,617.9 791.7,619.9 791.9,621.9 792.1,623.9 792.3,625.8 792.5,627.8 792.7,629.8 792.9,631.8 793.1,633.8 793.3,635.8 793.5,637.8 793.7,639.8 793.9,641.8 794.1,643.7 794.3,645.7 794.5,647.7 794.7,649.7 794.9,651.7 795.1,653.7 795.3,655.7 795.5,657.7 795.7,659.6 795.9,661.6 796.1,663.6 796.3,665.6 796.5,667.6 796.7,669.6 796.9,671.6 797.1,673.6 797.3,675.6 797.5,677.5 797.7,679.5 797.9,681.5 798.1,683.5 798.3,685.5 798.4,687.5 798.6,689.5 798.8,691.4 799.0,693.4 799.2,695.4 799.5,697.4 799.7,699.4 799.9,701.4 800.1,703.4 800.3,705.4 800.5,707.3 800.7,709.3 800.9,711.3 801.1,713.3 801.3,715.3 801.5,717.3 801.7,719.3 801.9,721.3 802.1,723.2 802.3,725.2 802.5,727.2 802.7,729.2 802.9,731.2 803.1,733.2 803.3,735.2 803.5,737.1 803.7,739.1 803.9,741.1 804.1,743.1 804.3,745.1 804.5,747.1 804.7,749.1 804.9,751.0 805.1,753.0 805.3,755.0 805.5,757.0 805.8,759.0 806.0,761.0 806.2,763.0 806.4,765.0 806.6,766.9 806.8,768.9 807.0,770.9 807.2,772.9 807.4,774.9 807.6,776.9 807.8,778.8 808.1,780.8 808.3,782.8 808.5,784.8 808.7,786.8 808.9,788.8 809.1,790.8 809.3,792.7 809.5,794.7 809.8,796.7 810.0,798.7 810.2,800.7 810.4,802.7 810.6,804.7 810.8,806.6 811.0,808.6 811.3,810.6 811.5,812.6 811.7,814.6 811.9,816.6 812.1,818.5 812.3,820.5 812.6,822.5 812.8,824.5 813.0,826.5 813.2,828.5 813.4,830.5 813.7,832.4 813.9,834.4 814.1,836.4 814.3,838.4 814.6,840.4 814.8,842.4 815.0,844.3 815.2,846.3 815.5,848.3 815.7,850.3 815.9,852.3 816.1,854.3 816.4,856.2 816.6,858.2 816.8,860.2 817.1,862.2 817.3,864.2 817.5,866.2 817.7,868.1 818.0,870.1 818.2,872.1 818.4,874.1 818.7,876.1 818.9,878.1 819.1,880.0 819.4,882.0 819.6,884.0 819.9,886.0 820.1,888.0 820.3,889.9 820.6,891.9 820.8,893.9 821.1,895.9 821.3,897.9 821.5,899.9 821.8,901.8 822.0,903.8 822.3,905.8 822.5,907.8 822.8,909.8 823.0,911.7 823.3,913.7 823.5,915.7 823.8,917.7 824.0,919.7 824.3,921.7 824.5,923.6 824.8,925.6 825.1,927.6 825.3,929.6 825.6,931.6 825.8,933.5 826.1,935.5 826.4,937.5 826.6,939.5 826.9,941.5 827.2,943.5 827.4,945.4 827.7,947.4 828.0,949.4 828.2,951.4 828.5,953.4 828.8,955.3 829.1,957.3 829.3,959.3 829.6,961.3 829.9,963.3 830.2,965.2 830.4,967.2 830.7,969.2 831.0,971.2 831.3,973.2 831.6,975.1 831.9,977.1 832.2,979.1 832.5,981.1 832.8,983.1 833.0,985.0 833.3,987.0 833.6,989.0 833.9,991.0 834.2,993.0 834.5,995.0 834.8,996.9 835.1,998.9 835.5,1000.9 835.8,1002.9 836.1,1004.9 836.4,1006.8 836.7,1008.8 837.0,1010.8 837.3,1012.8 837.6,1014.8 838.0,1016.7 838.3,1018.7 838.6,1020.7 838.9,1022.7 839.3,1024.7 839.6,1026.6 839.9,1028.6 840.3,1030.6 840.6,1032.6 840.9,1034.6 841.3,1036.5 841.6,1038.5 841.9,1040.5 842.3,1042.5 842.6,1044.5 843.0,1046.4 843.3,1048.4 843.7,1050.4 844.0,1052.4 844.4,1054.4 844.7,1056.3 845.1,1058.3 845.5,1060.3 845.8,1062.3 846.2,1064.3 846.6,1066.2 846.9,1068.2 847.3,1070.2 847.7,1072.2 848.1,1074.2 848.4,1076.1 848.8,1078.1 849.2,1080.1 849.6,1082.1 850.0,1084.0 850.4,1086.0 850.7,1088.0 851.1,1090.0 851.5,1092.0 851.9,1093.9 852.3,1095.9 852.7,1097.9 853.2,1099.9 853.6,1101.8 854.0,1103.8 854.5,1105.8 854.9,1107.7 855.4,1109.7 855.9,1111.6 856.4,1113.5 857.0,1115.4 857.6,1117.4 858.1,1119.2 858.8,1121.1 859.4,1123.0 860.1,1124.9 860.8,1126.7 861.6,1128.5 862.3,1130.3 863.2,1132.1 864.0,1133.9 864.9,1135.6 865.9,1137.3 866.9,1139.0 867.9,1140.7 869.0,1142.4 870.1,1144.0 871.3,1145.6 872.6,1147.2 873.9,1148.7 875.2,1150.2 876.6,1151.6 878.1,1152.9 879.6,1153.9 881.2,1154.7 882.8,1155.1 884.4,1155.2 886.1,1155.0 887.8,1154.5 889.5,1153.7 891.2,1152.8 892.8,1151.7 894.4,1150.4 895.9,1149.2 897.3,1147.8 898.8,1146.4 900.1,1144.9 901.4,1143.3 902.7,1141.7 903.9,1140.0 905.0,1138.3 906.2,1136.6 907.3,1134.8 908.3,1133.0 909.4,1131.2 910.4,1129.4 911.3,1127.5 912.3,1125.6 913.3,1123.8 914.2,1121.9 915.1,1120.1 916.0,1118.2 916.9,1116.3 917.8,1114.5 918.6,1112.6 919.5,1110.8 920.3,1108.9 921.1,1107.1 922.0,1105.2 922.8,1103.4 923.6,1101.6 924.4,1099.7 925.1,1097.9 925.9,1096.0 926.7,1094.2 927.4,1092.4 928.2,1090.5 928.9,1088.7 929.7,1086.9 930.4,1085.0 931.2,1083.2 931.9,1081.4 932.6,1079.5 933.3,1077.7 934.1,1075.9 934.8,1074.0 935.5,1072.2 936.2,1070.4 936.9,1068.5 937.6,1066.7 938.4,1064.9 939.1,1063.0 939.8,1061.2 940.5,1059.4 941.2,1057.5 941.9,1055.7 942.7,1053.8 943.4,1052.0 944.1,1050.1 944.8,1048.3 945.6,1046.4 946.3,1044.6 947.0,1042.8 947.7,1040.9 948.5,1039.1 949.2,1037.2 949.9,1035.4 950.7,1033.5 951.4,1031.7 952.2,1029.8 952.9,1028.0 953.6,1026.1 954.4,1024.3 955.1,1022.4 955.9,1020.6 956.6,1018.7 957.4,1016.9 958.1,1015.0 958.9,1013.2 959.6,1011.3 960.4,1009.5 961.2,1007.6 961.9,1005.8 962.7,1003.9 963.5,1002.1 964.2,1000.2 965.0,998.4 965.8,996.5 966.6,994.7 967.4,992.9 968.1,991.0 968.9,989.2 969.7,987.3 970.5,985.5 971.3,983.7 972.1,981.8 972.9,980.0 973.7,978.1 974.5,976.3 975.4,974.5 976.2,972.6 977.0,970.8 977.8,969.0 978.6,967.2 979.5,965.3 980.3,963.5 981.1,961.7 982.0,959.9 982.8,958.0 983.7,956.2 984.5,954.4 985.4,952.6 986.2,950.8 987.1,949.0 988.0,947.2 988.8,945.4 989.7,943.6 990.6,941.7 991.5,940.0 992.4,938.2 993.3,936.4 994.2,934.6 995.1,932.8 996.0,931.0 996.9,929.2 997.9,927.5 998.8,925.7 999.7,923.9 1000.7,922.2 1001.6,920.4 1002.6,918.6 1003.6,916.9 1004.5,915.2 1005.5,913.4 1006.5,911.7 1007.5,910.0 1008.5,908.2 1009.5,906.5 1010.6,904.8 1011.6,903.1 1012.6,901.4 1013.7,899.7 1014.8,898.0 1015.8,896.3 1016.9,894.7 1018.0,893.0 1019.1,891.3 1020.2,889.7 1021.3,888.0 1022.4,886.4 1023.6,884.8 1024.7,883.1 1025.9,881.5 1027.0,879.9 1028.2,878.3 1029.4,876.7 1030.6,875.1 1031.8,873.6 1033.1,872.0 1034.3,870.4 1035.6,868.9 1036.8,867.4 1038.1,865.8 1039.4,864.3 1040.7,862.8 1042.0,861.3 1043.3,859.8 1044.7,858.3 1046.0,856.8 1047.4,855.4 1048.8,853.9 1050.2,852.5 1051.6,851.0 1053.0,849.6 1054.4,848.2 1055.9,846.8 1057.4,845.4 1058.8,844.1 1060.3,842.7 1061.8,841.4 1063.4,840.1 1064.9,838.7 1066.5,837.5 1068.0,836.2 1069.6,834.9 1071.2,833.7 1072.8,832.5 1074.4,831.3 1076.0,830.2 1077.7,829.0 1079.3,827.9 1081.0,826.8 1082.7,825.8 1084.4,824.7 1086.1,823.7 1087.8,822.7 1089.6,821.8 1091.3,820.9 1093.1,820.0 1094.9,819.1 1096.7,818.3 1098.5,817.5 1100.3,816.8 1102.1,816.0 1104.0,815.3 1105.8,814.7 1107.7,814.1 1109.6,813.5 1111.5,812.9 1113.4,812.4 1115.3,811.9 1117.2,811.4 1119.1,811.0 1121.0,810.6 1123.0,810.2 1124.9,809.8 1126.9,809.5 1128.9,809.2 1130.9,808.9 1132.8,808.6 1134.8,808.3 1136.8,808.1 1138.8,807.9 1140.8,807.7 1142.8,807.5 1144.8,807.3 1146.8,807.2 1148.8,807.0 1150.9,806.9 1152.9,806.8 1154.9,806.7 1156.9,806.6 1158.9,806.5 1161.0,806.5 1163.0,806.4 1165.0,806.3 1167.0,806.3 1169.0,806.2 1171.1,806.2 1173.1,806.2 1175.1,806.1 1177.1,806.1 1179.1,806.1 1181.1,806.1 1183.2,806.1 1185.2,806.1 1187.2,806.1 1189.2,806.1 1191.2,806.1 1193.2,806.1 1195.2,806.1 1197.2,806.2 1199.2,806.2 1201.3,806.2 1203.3,806.3 1205.3,806.3 1207.3,806.3 1209.3,806.4 1211.3,806.4 1213.3,806.5 1215.3,806.5 1217.3,806.6 1219.3,806.7 1221.3,806.7 1223.3,806.8 1225.3,806.8 1227.3,806.9 1229.3,807.0 1231.3,807.0 1233.3,807.1 1235.3,807.1 1237.3,807.2 1239.3,807.3 1241.3,807.3 1243.3,807.4 1245.3,807.5 1247.3,807.5 1249.3,807.6 1251.3,807.7 1253.3,807.7 1255.3,807.8 1257.3,807.9 1259.3,807.9 1261.3,808.0 1263.3,808.0 1265.3,808.1 1267.3,808.1 1269.3,808.2 1271.3,808.2 1273.3,808.3 1275.3,808.3 1277.3,808.3 1279.3,808.4 1281.3,808.4 1283.2,808.4 1285.2,808.4 1287.2,808.5 1289.2,808.5 1291.2,808.5 1293.2,808.5 1295.2,808.5 1297.2,808.5 1299.2,808.5 1301.2,808.5 1303.2,808.5 1305.2,808.5 1307.2,808.4 1309.2,808.4 1311.2,808.4 1313.2,808.4 1315.2,808.3 1317.2,808.3 1319.2,808.3 1321.2,808.2 1323.1,808.2 1325.1,808.1 1327.1,808.1 1329.1,808.0 1331.1,808.0 1333.1,807.9 1335.1,807.9 1337.1,807.8 1339.1,807.7 1341.1,807.7 1343.1,807.6 1345.1,807.5 1347.1,807.4 1349.1,807.3 1351.1,807.3 1353.1,807.2 1355.1,807.1 1357.0,807.0 1359.0,806.9 1361.0,806.8 1363.0,806.7 1365.0,806.6 1367.0,806.5 1369.0,806.4 1371.0,806.3 1373.0,806.2 1375.0,806.1 1377.0,806.0 1379.0,805.9 1381.0,805.7 1383.0,805.6 1385.0,805.5 1387.0,805.4 1388.9,805.3 1390.9,805.1 1392.9,805.0 1394.9,804.9 1396.9,804.7 1398.9,804.6 1400.9,804.5 1402.9,804.3 1404.9,804.2 1406.9,804.1 1408.9,803.9 1410.9,803.8 1412.9,803.6 1414.9,803.5 1416.9,803.3 1418.8,803.2 1420.8,803.0 1422.8,802.9 1424.8,802.7 1426.8,802.6 1428.8,802.4 1430.8,802.3 1432.8,802.1 1434.8,802.0 1436.8,801.8 1438.8,801.7 1440.8,801.5 1442.8,801.3 1444.8,801.2 1446.7,801.0 1448.7,800.9 1450.7,800.7 1452.7,800.5 1454.7,800.4 1456.7,800.2 1458.7,800.0 1460.7,799.9 1462.7,799.7 1464.7,799.5 1466.7,799.4 1468.7,799.2 1470.7,799.0 1472.7,798.9 1474.6,798.7 1476.6,798.5 1478.6,798.4 1480.6,798.2 1482.6,798.0 1484.6,797.9 1486.6,797.7 1488.6,797.5 1490.6,797.3 1492.6,797.2 1494.6,797.0 1496.6,796.8 1498.6,796.7 1500.6,796.5 1502.6,796.3 1504.5,796.2 1506.5,796.0 1508.5,795.8 1510.5,795.7 1512.5,795.5 1514.5,795.3 1516.5,795.2 1518.5,795.0 1520.5,794.8 1522.5,794.7 1524.5,794.5 1526.5,794.4 1528.5,794.2 1530.5,794.0 1532.5,793.9 1534.4,793.7 1536.4,793.6 1538.4,793.4 1540.4,793.3 1542.4,793.1 1544.4,792.9 1546.4,792.8 1548.4,792.6 1550.4,792.5 1552.4,792.3 1554.4,792.2 1556.4,792.0 1558.4,791.9 1560.4,791.7 1562.4,791.6 1564.3,791.5 1566.3,791.3 1568.3,791.2 1570.3,791.0 1572.3,790.9 1574.3,790.7 1576.3,790.6 1578.3,790.5 1580.3,790.3 1582.3,790.2 1584.3,790.1 1586.3,789.9 1588.3,789.8 1590.3,789.7 1592.3,789.5 1594.3,789.4 1596.3,789.3 1598.2,789.1 1600.2,789.0 1602.2,788.9 1604.2,788.8 1606.2,788.6 1608.2,788.5 1610.2,788.4 1612.2,788.3 1614.2,788.1 1616.2,788.0 1618.2,787.9 1620.2,787.8 1622.2,787.7 1624.2,787.5 1626.2,787.4 1628.2,787.3 1630.2,787.2 1632.2,787.1 1634.2,787.0 1636.1,786.9 1638.1,786.8 1640.1,786.7 1642.1,786.6 1644.1,786.5 1646.1,786.3 1648.1,786.2 1650.1,786.1 1652.1,786.0 1654.1,785.9 1656.1,785.8 1658.1,785.8 1660.1,785.7 1662.1,785.6 1664.1,785.5 1666.1,785.4 1668.1,785.3 1670.1,785.2 1672.1,785.1 1674.1,785.0 1676.1,784.9 1678.1,784.8 1680.1,784.8 1682.1,784.7 1684.0,784.6 1686.0,784.5 1688.0,784.4 1690.0,784.4 1692.0,784.3 1694.0,784.2 1696.0,784.1 1698.0,784.1 1700.0,784.0 1702.0,783.9 1704.0,783.9 1706.0,783.8 1708.0,783.7 1710.0,783.7 1712.0,783.6 1714.0,783.5 1716.0,783.5 1718.0,783.4 1720.0,783.4 1722.0,783.3 1724.0,783.2 1726.0,783.2 1728.0,783.1 1730.0,783.1 1732.0,783.0 1734.0,783.0 1736.0,782.9 1738.0,782.9 1740.0,782.9 1742.0,782.8 1744.0,782.8 1746.0,782.7 1748.0,782.7 1750.0,782.6 1752.0,782.6 1754.0,782.6 1756.0,782.5 1758.0,782.5 1760.0,782.5 1762.0,782.5 1764.0,782.4 1766.0,782.4 1768.0,782.4 1770.0,782.4 1772.0,782.3 1774.0,782.3 1776.0,782.3 1778.0,782.3 1780.0,782.3 1782.0,782.2 1784.0,782.2 1786.0,782.2 1788.0,782.2 1790.0,782.2 1792.0,782.2 1794.0,782.2 1796.0,782.2 1798.0,782.2 1800.0,782.2 1802.0,782.2 1804.0,782.2 1806.0,782.2 1808.0,782.2 1810.0,782.2 1812.0,782.2 1814.0,782.2 1816.0,782.2 1818.0,782.3 1820.0,782.3 1822.0,782.3 1824.0,782.3 1826.0,782.3 1828.0,782.3 1830.0,782.4 1832.0,782.4 1834.0,782.4 1836.0,782.5 1838.0,782.5 1840.0,782.5 1842.0,782.5 1844.0,782.6 1846.0,782.6 1848.0,782.7 1850.0,782.7 1852.0,782.7 1854.0,782.8 1856.0,782.8 1858.0,782.9" fill="none" stroke="#000" stroke-width="9.0" stroke-linecap="round" stroke-dasharray="28.5 34.4 26.2 35.2 26.2 36.0 26.2 34.8 26.2 35.0 26.2 35.2 26.2 34.8 26.2 34.2 26.2 35.7 26.2 35.9 26.2 33.0 26.2 36.4 26.2 35.6 26.2 34.7 26.2 35.1 26.2 35.3 26.2 35.0 26.2 34.9 26.2 35.2 26.2 35.5 26.2 34.7 26.2 35.9 26.2 34.6 26.2 35.0 26.2 42.1 26.2 34.6 26.2 35.0 26.2 35.8 26.2 34.9 26.2 36.2 26.2 34.1 26.2 35.1 26.2 35.3 26.2 36.0 26.2 34.4 26.2 33.6 26.2 35.9 26.2 35.0 26.2 35.6 26.2 34.7 26.2 34.1 26.2 34.1 26.2 35.7 26.2 34.7 26.2 35.1 26.2 35.9 26.2 34.3 26.2 35.4 26.2 35.3 26.2 34.5 26.2 35.2 26.2 35.1 26.2 34.8 26.2 35.5 26.2 35.2 26.2 34.2 26.2 34.4 26.2 35.1 26.2 35.1 26.2 35.1 26.2 61.3"/>
</g>
<text x="207" y="79.3" font-size="77" text-anchor="end">0.3</text>
<text x="207" y="320.8" font-size="77" text-anchor="end">0.2</text>
<text x="207" y="562.2" font-size="77" text-anchor="end">0.1</text>
<text x="207" y="803.6" font-size="77" text-anchor="end">0</text>
<text x="207" y="1045.1" font-size="77" text-anchor="end">-0.1</text>
<text x="207" y="1286.5" font-size="77" text-anchor="end">-0.2</text>
<text x="207" y="1528.0" font-size="77" text-anchor="end">-0.3</text>
<text x="278.2" y="866.5" font-size="54" letter-spacing="2" text-anchor="middle">250</text>
<text x="496.2" y="866.5" font-size="54" letter-spacing="2" text-anchor="middle">270</text>
<text x="714.2" y="866.5" font-size="54" letter-spacing="2" text-anchor="middle">290</text>
<text x="932.2" y="866.5" font-size="54" letter-spacing="2" text-anchor="middle">310</text>
<text x="1150.2" y="866.5" font-size="54" letter-spacing="2" text-anchor="middle">330</text>
<text x="1368.2" y="866.5" font-size="54" letter-spacing="2" text-anchor="middle">350</text>
<text x="1586.2" y="866.5" font-size="54" letter-spacing="2" text-anchor="middle">370</text>
<text x="1804.2" y="866.5" font-size="54" letter-spacing="2" text-anchor="middle">390</text>
<text x="1095" y="1594.3" font-size="77" text-anchor="middle">Wavelength (nm)</text>
<text transform="translate(90.7,783.5) rotate(-90)" x="0" y="0" font-size="77" text-anchor="middle">X-loadings</text>
<path d="M1394.5,115H1475.5" stroke="#000" stroke-width="9.0" stroke-linecap="round"/>
<path d="M1394.5,206.6H1475.5" stroke="#000" stroke-width="9.0" stroke-linecap="round" stroke-dasharray="0 17.7"/>
<path d="M1394.5,301.3H1475.5" stroke="#000" stroke-width="9.0" stroke-linecap="round" stroke-dasharray="26.2 35.1"/>
<text x="1483" y="136.3" font-size="77.5">PC1 (93%)</text>
<text x="1483" y="230.3" font-size="77.5">PC2 (4%)</text>
<text x="1483" y="324.3" font-size="77.5">PC3 (3%)</text>
<text x="627.5" y="141.7" font-size="78">290 nm</text>
<text x="371" y="393.7" font-size="78">266 nm</text>
<text x="724.5" y="1324.9" font-size="78">300 nm</text>
<text x="480" y="1430.2" font-size="78">280 nm</text>
</svg>
</body></html>
